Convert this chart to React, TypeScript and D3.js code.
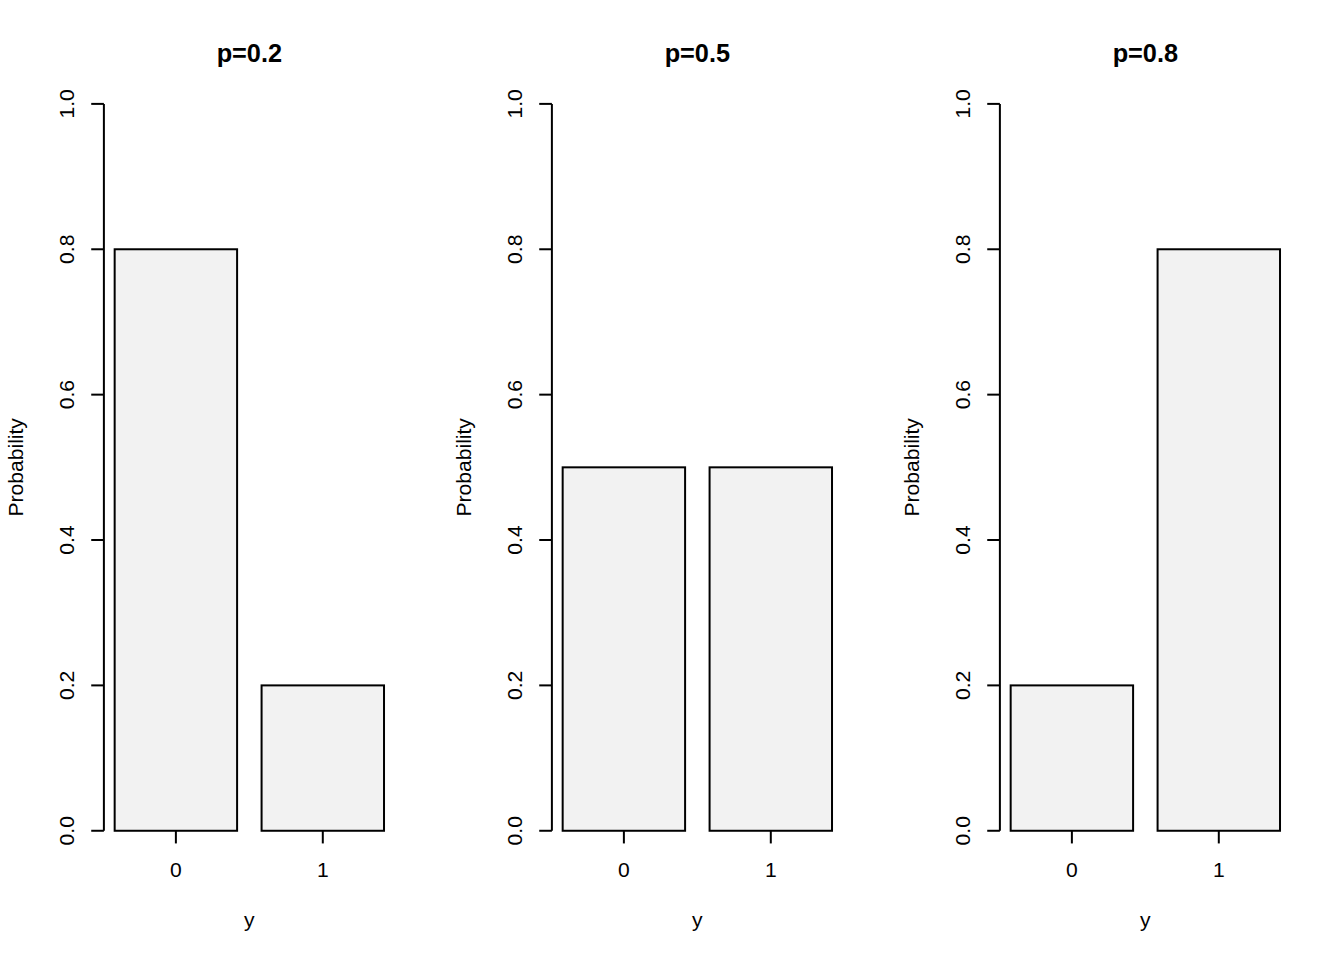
import React from "react";
import * as d3 from "d3";

const W = 1344;
const H = 960;

const categories = ["0", "1"];
const panelTitles = ["p=0.2", "p=0.5", "p=0.8"];
const panelValues = [
  [0.8, 0.2],
  [0.5, 0.5],
  [0.2, 0.8],
];
const yTicks = [0, 0.2, 0.4, 0.6, 0.8, 1.0];
const xLabel = "y";
const yLabel = "Probability";

const FONT = "'Liberation Sans', Arial, Helvetica, sans-serif";
const LINE = 25.34; // R margin line height in px
const PANEL_W = W / 3;
const MAR = { bottom: 5.1, left: 4.1, top: 4.1, right: 2.1 };
const FS = 21.1;
const TITLE_FS = 25.3;
const TCL = 0.5 * LINE;

function Panel({ idx }: { idx: number }) {
  const ox = idx * PANEL_W;
  const left = ox + MAR.left * LINE;
  const right = ox + PANEL_W - MAR.right * LINE;
  const top = MAR.top * LINE;
  const bottom = H - MAR.bottom * LINE;

  // R barplot geometry: width 1, space 0.2
  const lefts = categories.map((_, i) => 0.2 + i * 1.2);
  const xmin = lefts[0];
  const xmax = lefts[lefts.length - 1] + 1;
  const ext = (xmax - xmin) * 0.04;
  const x = d3.scaleLinear().domain([xmin - ext, xmax + ext]).range([left, right]);
  const y = d3.scaleLinear().domain([0, 1]).range([bottom, top]);
  const vals = panelValues[idx];
  const cx = (left + right) / 2;

  return (
    <g>
      <text
        x={cx}
        y={61.5}
        textAnchor="middle"
        fontFamily={FONT}
        fontWeight="bold"
        fontSize={TITLE_FS}
      >
        {panelTitles[idx]}
      </text>
      {vals.map((v, i) => (
        <rect
          key={i}
          x={x(lefts[i])}
          y={y(v)}
          width={x(lefts[i] + 1) - x(lefts[i])}
          height={y(0) - y(v)}
          fill="#F2F2F2"
          stroke="#000"
          strokeWidth={2}
        />
      ))}
      {/* y axis */}
      <line x1={left} x2={left} y1={y(0)} y2={y(1)} stroke="#000" strokeWidth={2} />
      {yTicks.map((t) => (
        <g key={t}>
          <line x1={left - TCL} x2={left} y1={y(t)} y2={y(t)} stroke="#000" strokeWidth={2} />
          <text
            transform={`translate(${left - LINE - 5},${y(t)}) rotate(-90)`}
            textAnchor="middle"
            fontFamily={FONT}
            fontSize={FS}
          >
            {t.toFixed(1)}
          </text>
        </g>
      ))}
      {/* x ticks */}
      {categories.map((c, i) => {
        const px = x(lefts[i] + 0.5);
        return (
          <g key={c}>
            <line x1={px} x2={px} y1={bottom} y2={bottom + TCL} stroke="#000" strokeWidth={2} />
            <text x={px} y={bottom + LINE + 20.7} textAnchor="middle" fontFamily={FONT} fontSize={FS}>
              {c}
            </text>
          </g>
        );
      })}
      <text x={cx} y={bottom + 3 * LINE + 20.7} textAnchor="middle" fontFamily={FONT} fontSize={FS}>
        {xLabel}
      </text>
      <text
        transform={`translate(${left - 3 * LINE - 5},${(top + bottom) / 2}) rotate(-90)`}
        textAnchor="middle"
        fontFamily={FONT}
        fontSize={FS}
      >
        {yLabel}
      </text>
    </g>
  );
}

export default function App() {
  return (
    <svg
      width={W}
      height={H}
      viewBox={`0 0 ${W} ${H}`}
      style={{ position: "absolute", left: 0, top: 0, background: "#fff" }}
    >
      <rect x={0} y={0} width={W} height={H} fill="#fff" />
      {panelTitles.map((_, i) => (
        <Panel key={i} idx={i} />
      ))}
    </svg>
  );
}
